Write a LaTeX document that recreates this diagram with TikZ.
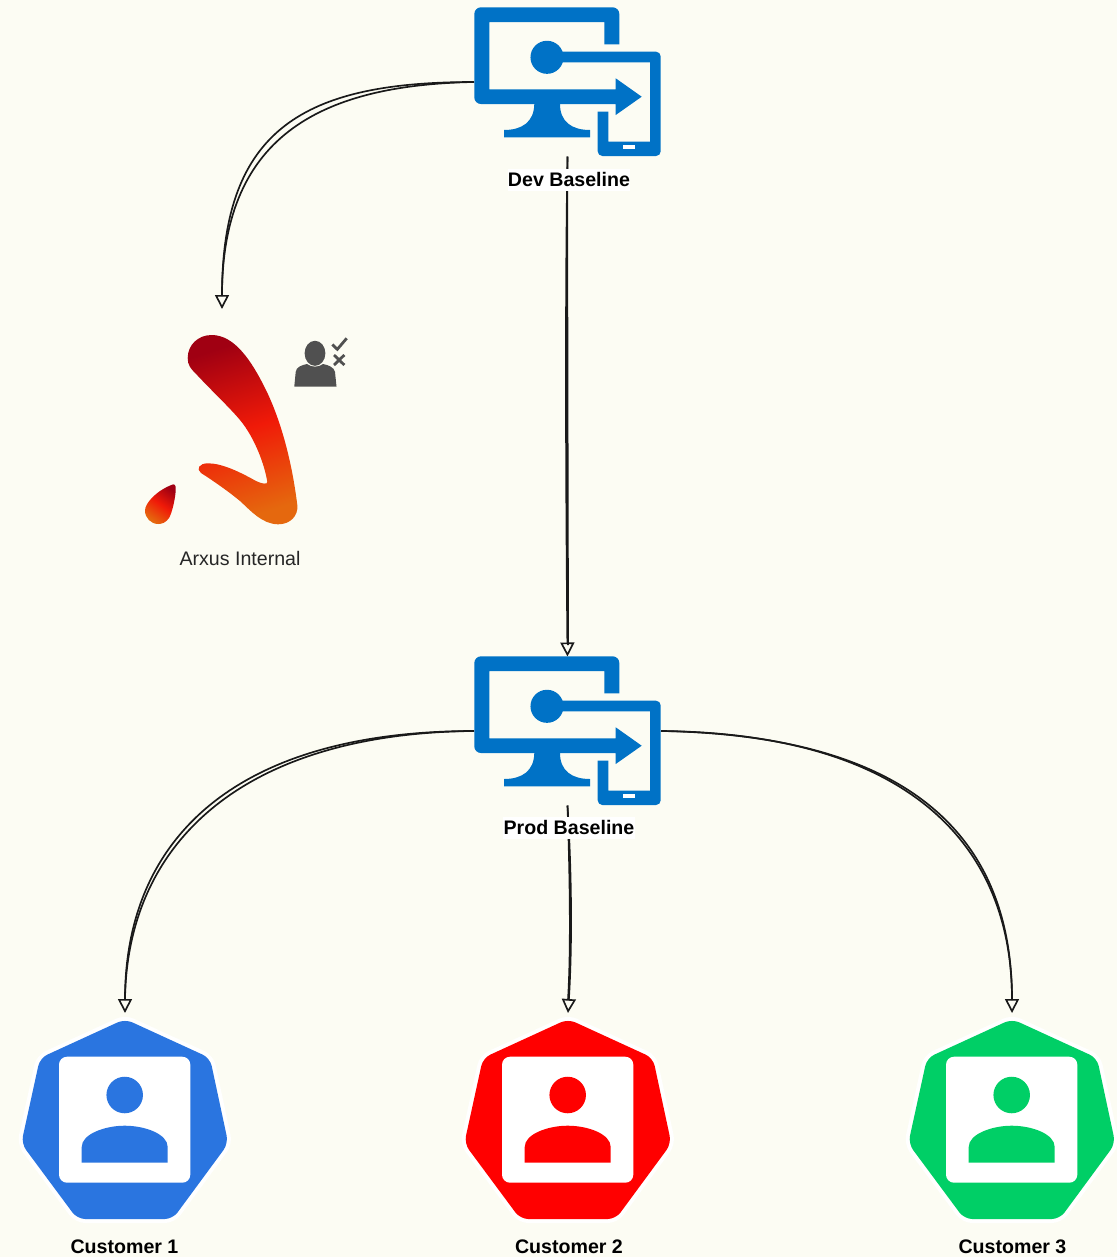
\documentclass[tikz,border=0pt]{standalone}
\usepackage{fontspec}
\setmainfont{Liberation Sans}
\usetikzlibrary{arrows.meta}
\definecolor{pagebg}{HTML}{FCFCF3}
\definecolor{azure}{HTML}{0072C6}
\definecolor{custblue}{HTML}{2A75E0}
\definecolor{custred}{HTML}{FF0000}
\definecolor{custgreen}{HTML}{00CF66}
\definecolor{logodark}{HTML}{A00012}
\definecolor{logomid}{HTML}{F01A08}
\definecolor{logoend}{HTML}{E5680E}
\definecolor{persongrey}{HTML}{505050}
\tikzset{
  anchorbox/.style={inner sep=0pt,outer sep=0pt,draw=none,fill=none},
  strand/.style={line width=1.25pt,draw=black!90},
  tipped/.style={strand,-{Triangle[open,length=10.5pt,width=10.5pt,line width=1.25pt]}},
  boldlabel/.style={font=\fontsize{14.7}{16}\selectfont\bfseries,text=black,inner sep=0pt,anchor=center},
  whitelabel/.style={boldlabel,fill=white,minimum height=16.5pt},
  plainlabel/.style={font=\fontsize{14.7}{16}\selectfont,text=black!85,inner sep=0pt,anchor=center},
}
\newcommand{\monitoricon}[1]{%
\begin{scope}[shift={(0,#1)}]
  \fill[azure] (604.3,44.3) -- (604.3,22) -- (489.3,22) -- (489.3,89.3) -- (615.7,89.3) -- (615.7,78.3) -- (641.7,96.7) -- (615.7,115) -- (615.7,104)
    [rounded corners=5pt] -- (474.3,104) -- (474.3,7.3) -- (619.3,7.3) [sharp corners] -- (619.3,44.3) -- cycle;
  \fill[azure] (534.3,104) .. controls (534,122) and (522,130) .. (504,130) -- (504,137.3) -- (590,137.3) -- (590,130) .. controls (572,130) and (560,122) .. (560,104) -- cycle;
  \fill[azure] (547,57.3) circle[radius=12.4pt];
  \fill[azure] (547,51.7) [rounded corners=3.5pt] -- (660.7,51.7) -- (660.7,156) -- (597.7,156) [sharp corners] -- (597.7,111.7) -- (608.3,111.7) -- (608.3,141.7) -- (650,141.7) -- (650,62.3) -- (547,62.3) -- cycle;
  \fill[white] (623.3,145) rectangle (635,149);
\end{scope}}
\newcommand{\heptapath}{(125,1019) -- (210,1058) -- (228.3,1143.5) -- (172.7,1219) -- (77.3,1219) -- (21.3,1143.5) -- (40,1058) -- cycle}
\newcommand{\customericon}[2]{%
\begin{scope}[shift={(#1,0)}]
  \path[draw=white,line width=6pt,line join=round,rounded corners=6pt] \heptapath;
  \fill[#2,rounded corners=6pt] \heptapath;
  \fill[white,rounded corners=6pt] (59,1056.7) rectangle (190.3,1182.7);
  \fill[#2] (124.7,1095) circle[radius=13.7pt];
  \fill[#2] (81.7,1162.7) -- (81.7,1147) .. controls (81.7,1134) and (105,1125.7) .. (124.7,1125.7) .. controls (145,1125.7) and (167.7,1134) .. (167.7,1147) -- (167.7,1162.7) -- cycle;
\end{scope}}
\begin{document}
\begin{tikzpicture}[x=0.75pt,y=-0.75pt]
\useasboundingbox (0,0) rectangle (1117,1257);
\fill[pagebg] (0,0) rectangle (1117,1257);

% invisible frames that the connectors attach to
\node[anchorbox,minimum width=140.25pt,minimum height=111.75pt] (dev) at (567.5,82) {};
\node[anchorbox,minimum width=140.25pt,minimum height=111.75pt] (prod) at (567.5,731) {};
\node[anchorbox,minimum width=114.75pt,minimum height=160.5pt] (arxus) at (222,416) {};
\node[anchorbox,minimum width=153pt,minimum height=154.5pt] (cust1) at (125,1116) {};
\node[anchorbox,minimum width=153pt,minimum height=154.5pt] (cust2) at (568,1116) {};
\node[anchorbox,minimum width=153pt,minimum height=154.5pt] (cust3) at (1012,1116) {};

% connectors
\draw[tipped] (dev.west) .. controls (305,82) and (222,128) .. (arxus.north);
\draw[strand] (dev.west) .. controls (315,85) and (222,140) .. (222,296);
\draw[tipped] (dev.south) .. controls (565,300) and (566,500) .. (prod.north);
\draw[strand] (dev.south) .. controls (567,300) and (568,500) .. (568,645);
\draw[tipped] (prod.west) .. controls (240,731) and (125,835) .. (cust1.north);
\draw[strand] (prod.west) .. controls (246,733) and (127,840) .. (125,1000);
\draw[tipped] (prod.south) .. controls (572,880) and (572,950) .. (cust2.north);
\draw[strand] (prod.south) .. controls (570,880) and (571,950) .. (568,1000);
\draw[tipped] (prod.east) .. controls (895,735) and (1012,825) .. (cust3.north);
\draw[strand] (prod.east) .. controls (890,733) and (1012,830) .. (1012,1000);

% icons
\monitoricon{0}
\monitoricon{649}
\customericon{0}{custblue}
\customericon{443}{custred}
\customericon{887}{custgreen}

% logo
\shade[top color=logodark,bottom color=logoend,middle color=logomid,shading angle=18]
  (211.7,335) .. controls (235,335) and (252,362) .. (265,388)
  .. controls (281,420) and (292,462) .. (297.3,505)
  .. controls (298.5,516) and (290,524.3) .. (278.3,524.3)
  .. controls (262,524.3) and (250,510) .. (240,501)
  .. controls (228,491) and (212,480) .. (201,473)
  .. controls (196,469) and (199,463.3) .. (208,463.3)
  .. controls (222,463.3) and (240,472) .. (256,481)
  .. controls (262,484) and (267.5,484.5) .. (267.3,482)
  .. controls (265,466) and (255,438) .. (240,420)
  .. controls (230,408) and (212,391) .. (198,376)
  .. controls (190,368) and (187.7,365) .. (187.7,358)
  .. controls (187.7,345) and (198,335) .. (211.7,335) -- cycle;
\shade[top color=logodark,bottom color=logoend,middle color=logomid,shading angle=-35]
  (173.3,484.3) .. controls (176,484.5) and (176,488) .. (175.7,491)
  .. controls (175,500) and (172,513) .. (169,518)
  .. controls (166,522.5) and (162,524) .. (158.3,524)
  .. controls (151,524) and (145,518) .. (145,510.5)
  .. controls (145,503) and (157,490) .. (173.3,484.3) -- cycle;

% person with check and cross
\fill[persongrey] (315,353.3) ellipse[x radius=7.8pt,y radius=9.4pt];
\fill[persongrey] (294.3,386.5) -- (295.7,372) .. controls (296,367) and (302,365) .. (307,364) .. controls (311,367.5) and (319,367.5) .. (323,364) .. controls (328,365) and (334,367) .. (335,372) -- (336.5,386.5) -- cycle;
\draw[persongrey,line width=2.1pt] (332.3,344.5) -- (337.3,349.3) -- (346.7,338.3);
\draw[persongrey,line width=2.1pt] (334,355) -- (344.3,365) (334,365) -- (344.3,355);

% labels
\node[whitelabel,minimum width=91.5pt] (devlabel) at (569,179.5) {Dev Baseline};
\node[whitelabel,minimum width=98.5pt] (prodlabel) at (569,827.5) {Prod Baseline};
\node[plainlabel] (arxuslabel) at (240,558) {Arxus Internal};
\node[boldlabel] (label1) at (124.5,1246.5) {Customer 1};
\node[boldlabel] (label2) at (569,1246.5) {Customer 2};
\node[boldlabel] (label3) at (1012.5,1246.5) {Customer 3};
\end{tikzpicture}
\end{document}
